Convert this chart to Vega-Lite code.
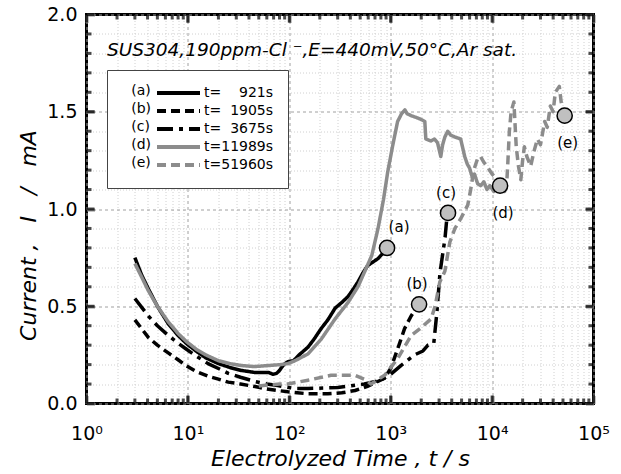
{
  "$schema": "https://vega.github.io/schema/vega-lite/v6.json",
  "width": 507,
  "height": 389,
  "autosize": {"type": "none"},
  "padding": {"left": 86.5, "top": 14.5, "right": 27.5, "bottom": 70.5},
  "title": {"text": "SUS304,190ppm-Cl \u207b,E=440mV,50°C,Ar sat.", "anchor": "start", "orient": "top", "frame": "group", "offset": 0, "dx": 20.5, "dy": 69, "baseline": "alphabetic", "font": "DejaVu Sans", "fontStyle": "italic", "fontWeight": "normal", "fontSize": 18.5, "color": "black"},
  "datasets": {
    "curves": [
      {"curve": "a", "t": 3, "I": 0.75}, {"curve": "a", "t": 3.5, "I": 0.66}, {"curve": "a", "t": 4.07, "I": 0.59}, {"curve": "a", "t": 5, "I": 0.5}, {"curve": "a", "t": 6.4, "I": 0.41}, {"curve": "a", "t": 8, "I": 0.35}, {"curve": "a", "t": 9.6, "I": 0.31}, {"curve": "a", "t": 12, "I": 0.27}, {"curve": "a", "t": 15, "I": 0.235}, {"curve": "a", "t": 20, "I": 0.205}, {"curve": "a", "t": 26, "I": 0.185}, {"curve": "a", "t": 33.6, "I": 0.17}, {"curve": "a", "t": 45, "I": 0.16}, {"curve": "a", "t": 62, "I": 0.16}, {"curve": "a", "t": 69, "I": 0.15}, {"curve": "a", "t": 75, "I": 0.155}, {"curve": "a", "t": 80, "I": 0.17}, {"curve": "a", "t": 88, "I": 0.2}, {"curve": "a", "t": 97, "I": 0.215}, {"curve": "a", "t": 110, "I": 0.22}, {"curve": "a", "t": 125, "I": 0.25}, {"curve": "a", "t": 153, "I": 0.29}, {"curve": "a", "t": 175, "I": 0.33}, {"curve": "a", "t": 206, "I": 0.385}, {"curve": "a", "t": 240, "I": 0.43}, {"curve": "a", "t": 283, "I": 0.49}, {"curve": "a", "t": 330, "I": 0.52}, {"curve": "a", "t": 380, "I": 0.55}, {"curve": "a", "t": 430, "I": 0.59}, {"curve": "a", "t": 475, "I": 0.625}, {"curve": "a", "t": 530, "I": 0.67}, {"curve": "a", "t": 595, "I": 0.71}, {"curve": "a", "t": 680, "I": 0.73}, {"curve": "a", "t": 750, "I": 0.745}, {"curve": "a", "t": 830, "I": 0.77}, {"curve": "a", "t": 921, "I": 0.8},
      {"curve": "b", "t": 3, "I": 0.43}, {"curve": "b", "t": 4.07, "I": 0.34}, {"curve": "b", "t": 5, "I": 0.3}, {"curve": "b", "t": 6.4, "I": 0.26}, {"curve": "b", "t": 8, "I": 0.225}, {"curve": "b", "t": 9.6, "I": 0.195}, {"curve": "b", "t": 12, "I": 0.165}, {"curve": "b", "t": 15.8, "I": 0.14}, {"curve": "b", "t": 20, "I": 0.125}, {"curve": "b", "t": 25, "I": 0.11}, {"curve": "b", "t": 33, "I": 0.1}, {"curve": "b", "t": 46, "I": 0.087}, {"curve": "b", "t": 60, "I": 0.075}, {"curve": "b", "t": 77, "I": 0.067}, {"curve": "b", "t": 97, "I": 0.06}, {"curve": "b", "t": 120, "I": 0.055}, {"curve": "b", "t": 153, "I": 0.05}, {"curve": "b", "t": 240, "I": 0.05}, {"curve": "b", "t": 330, "I": 0.055}, {"curve": "b", "t": 445, "I": 0.067}, {"curve": "b", "t": 600, "I": 0.09}, {"curve": "b", "t": 870, "I": 0.13}, {"curve": "b", "t": 1000, "I": 0.18}, {"curve": "b", "t": 1170, "I": 0.28}, {"curve": "b", "t": 1370, "I": 0.385}, {"curve": "b", "t": 1590, "I": 0.45}, {"curve": "b", "t": 1905, "I": 0.51},
      {"curve": "c", "t": 3, "I": 0.54}, {"curve": "c", "t": 4.07, "I": 0.45}, {"curve": "c", "t": 5, "I": 0.4}, {"curve": "c", "t": 6.4, "I": 0.35}, {"curve": "c", "t": 8, "I": 0.31}, {"curve": "c", "t": 9.6, "I": 0.28}, {"curve": "c", "t": 12, "I": 0.245}, {"curve": "c", "t": 15.8, "I": 0.205}, {"curve": "c", "t": 20, "I": 0.18}, {"curve": "c", "t": 25, "I": 0.155}, {"curve": "c", "t": 33, "I": 0.135}, {"curve": "c", "t": 46, "I": 0.113}, {"curve": "c", "t": 60, "I": 0.1}, {"curve": "c", "t": 77, "I": 0.092}, {"curve": "c", "t": 114, "I": 0.077}, {"curve": "c", "t": 153, "I": 0.077}, {"curve": "c", "t": 300, "I": 0.082}, {"curve": "c", "t": 550, "I": 0.1}, {"curve": "c", "t": 800, "I": 0.12}, {"curve": "c", "t": 1000, "I": 0.15}, {"curve": "c", "t": 1260, "I": 0.195}, {"curve": "c", "t": 1720, "I": 0.25}, {"curve": "c", "t": 2080, "I": 0.27}, {"curve": "c", "t": 2330, "I": 0.3}, {"curve": "c", "t": 2660, "I": 0.31}, {"curve": "c", "t": 2850, "I": 0.465}, {"curve": "c", "t": 3060, "I": 0.67}, {"curve": "c", "t": 3440, "I": 0.855}, {"curve": "c", "t": 3560, "I": 0.94}, {"curve": "c", "t": 3675, "I": 0.98},
      {"curve": "d", "t": 3, "I": 0.72}, {"curve": "d", "t": 3.5, "I": 0.65}, {"curve": "d", "t": 4.07, "I": 0.58}, {"curve": "d", "t": 5, "I": 0.5}, {"curve": "d", "t": 6.4, "I": 0.42}, {"curve": "d", "t": 8, "I": 0.36}, {"curve": "d", "t": 9.6, "I": 0.32}, {"curve": "d", "t": 12, "I": 0.28}, {"curve": "d", "t": 15, "I": 0.25}, {"curve": "d", "t": 20, "I": 0.22}, {"curve": "d", "t": 26, "I": 0.205}, {"curve": "d", "t": 34, "I": 0.195}, {"curve": "d", "t": 45, "I": 0.19}, {"curve": "d", "t": 62, "I": 0.195}, {"curve": "d", "t": 82, "I": 0.2}, {"curve": "d", "t": 97, "I": 0.205}, {"curve": "d", "t": 114, "I": 0.22}, {"curve": "d", "t": 153, "I": 0.255}, {"curve": "d", "t": 206, "I": 0.33}, {"curve": "d", "t": 283, "I": 0.435}, {"curve": "d", "t": 380, "I": 0.52}, {"curve": "d", "t": 475, "I": 0.6}, {"curve": "d", "t": 556, "I": 0.68}, {"curve": "d", "t": 650, "I": 0.76}, {"curve": "d", "t": 750, "I": 0.9}, {"curve": "d", "t": 850, "I": 1.05}, {"curve": "d", "t": 934, "I": 1.19}, {"curve": "d", "t": 1050, "I": 1.33}, {"curve": "d", "t": 1170, "I": 1.45}, {"curve": "d", "t": 1280, "I": 1.49}, {"curve": "d", "t": 1380, "I": 1.51}, {"curve": "d", "t": 1450, "I": 1.49}, {"curve": "d", "t": 1590, "I": 1.48}, {"curve": "d", "t": 1800, "I": 1.47}, {"curve": "d", "t": 2000, "I": 1.46}, {"curve": "d", "t": 2170, "I": 1.45}, {"curve": "d", "t": 2220, "I": 1.36}, {"curve": "d", "t": 2490, "I": 1.35}, {"curve": "d", "t": 2700, "I": 1.36}, {"curve": "d", "t": 2900, "I": 1.34}, {"curve": "d", "t": 3020, "I": 1.3}, {"curve": "d", "t": 3120, "I": 1.27}, {"curve": "d", "t": 3250, "I": 1.33}, {"curve": "d", "t": 3420, "I": 1.37}, {"curve": "d", "t": 3650, "I": 1.4}, {"curve": "d", "t": 3900, "I": 1.38}, {"curve": "d", "t": 4300, "I": 1.37}, {"curve": "d", "t": 4900, "I": 1.36}, {"curve": "d", "t": 5100, "I": 1.32}, {"curve": "d", "t": 5370, "I": 1.27}, {"curve": "d", "t": 5700, "I": 1.23}, {"curve": "d", "t": 6000, "I": 1.21}, {"curve": "d", "t": 6400, "I": 1.16}, {"curve": "d", "t": 6700, "I": 1.18}, {"curve": "d", "t": 7200, "I": 1.13}, {"curve": "d", "t": 7700, "I": 1.12}, {"curve": "d", "t": 8300, "I": 1.14}, {"curve": "d", "t": 8900, "I": 1.1}, {"curve": "d", "t": 9500, "I": 1.12}, {"curve": "d", "t": 10400, "I": 1.09}, {"curve": "d", "t": 11200, "I": 1.11}, {"curve": "d", "t": 11989, "I": 1.12},
      {"curve": "e", "t": 50, "I": 0.09}, {"curve": "e", "t": 62, "I": 0.095}, {"curve": "e", "t": 80, "I": 0.1}, {"curve": "e", "t": 97, "I": 0.1}, {"curve": "e", "t": 153, "I": 0.12}, {"curve": "e", "t": 258, "I": 0.145}, {"curve": "e", "t": 445, "I": 0.145}, {"curve": "e", "t": 550, "I": 0.125}, {"curve": "e", "t": 640, "I": 0.1}, {"curve": "e", "t": 870, "I": 0.145}, {"curve": "e", "t": 1170, "I": 0.23}, {"curve": "e", "t": 1590, "I": 0.35}, {"curve": "e", "t": 2000, "I": 0.39}, {"curve": "e", "t": 2500, "I": 0.435}, {"curve": "e", "t": 2740, "I": 0.5}, {"curve": "e", "t": 3050, "I": 0.625}, {"curve": "e", "t": 3420, "I": 0.68}, {"curve": "e", "t": 3830, "I": 0.83}, {"curve": "e", "t": 4300, "I": 0.9}, {"curve": "e", "t": 4900, "I": 0.95}, {"curve": "e", "t": 5750, "I": 1.02}, {"curve": "e", "t": 6150, "I": 1.1}, {"curve": "e", "t": 6600, "I": 1.2}, {"curve": "e", "t": 7200, "I": 1.26}, {"curve": "e", "t": 7700, "I": 1.27}, {"curve": "e", "t": 8300, "I": 1.24}, {"curve": "e", "t": 8900, "I": 1.22}, {"curve": "e", "t": 10000, "I": 1.18}, {"curve": "e", "t": 11300, "I": 1.15}, {"curve": "e", "t": 12500, "I": 1.1}, {"curve": "e", "t": 13300, "I": 1.09}, {"curve": "e", "t": 14000, "I": 1.15}, {"curve": "e", "t": 14300, "I": 1.24}, {"curve": "e", "t": 14800, "I": 1.4}, {"curve": "e", "t": 15400, "I": 1.5}, {"curve": "e", "t": 16400, "I": 1.55}, {"curve": "e", "t": 17300, "I": 1.32}, {"curve": "e", "t": 18200, "I": 1.22}, {"curve": "e", "t": 19200, "I": 1.15}, {"curve": "e", "t": 20000, "I": 1.25}, {"curve": "e", "t": 20800, "I": 1.32}, {"curve": "e", "t": 22000, "I": 1.27}, {"curve": "e", "t": 24000, "I": 1.22}, {"curve": "e", "t": 26000, "I": 1.3}, {"curve": "e", "t": 28000, "I": 1.36}, {"curve": "e", "t": 30000, "I": 1.33}, {"curve": "e", "t": 33000, "I": 1.45}, {"curve": "e", "t": 35000, "I": 1.42}, {"curve": "e", "t": 37500, "I": 1.53}, {"curve": "e", "t": 40000, "I": 1.5}, {"curve": "e", "t": 42000, "I": 1.6}, {"curve": "e", "t": 46000, "I": 1.63}, {"curve": "e", "t": 48000, "I": 1.55}, {"curve": "e", "t": 51960, "I": 1.48}
    ],
    "markers": [
      {"label": "(a)", "t": 921, "I": 0.8},
      {"label": "(b)", "t": 1905, "I": 0.51},
      {"label": "(c)", "t": 3675, "I": 0.98},
      {"label": "(d)", "t": 11989, "I": 1.12},
      {"label": "(e)", "t": 51960, "I": 1.48}
    ],
    "edgeticks": [
      {"side": "bottom", "kind": "major", "t": 1, "I": 0}, {"side": "bottom", "kind": "major", "t": 10, "I": 0}, {"side": "bottom", "kind": "major", "t": 100, "I": 0}, {"side": "bottom", "kind": "major", "t": 1000, "I": 0}, {"side": "bottom", "kind": "major", "t": 10000, "I": 0}, {"side": "bottom", "kind": "major", "t": 100000, "I": 0},
      {"side": "top", "kind": "major", "t": 1, "I": 2}, {"side": "top", "kind": "major", "t": 10, "I": 2}, {"side": "top", "kind": "major", "t": 100, "I": 2}, {"side": "top", "kind": "major", "t": 1000, "I": 2}, {"side": "top", "kind": "major", "t": 10000, "I": 2}, {"side": "top", "kind": "major", "t": 100000, "I": 2},
      {"side": "bottom", "kind": "minor", "t": 2, "I": 0}, {"side": "bottom", "kind": "minor", "t": 3, "I": 0}, {"side": "bottom", "kind": "minor", "t": 4, "I": 0}, {"side": "bottom", "kind": "minor", "t": 5, "I": 0}, {"side": "bottom", "kind": "minor", "t": 6, "I": 0}, {"side": "bottom", "kind": "minor", "t": 7, "I": 0}, {"side": "bottom", "kind": "minor", "t": 8, "I": 0}, {"side": "bottom", "kind": "minor", "t": 9, "I": 0},
      {"side": "bottom", "kind": "minor", "t": 20, "I": 0}, {"side": "bottom", "kind": "minor", "t": 30, "I": 0}, {"side": "bottom", "kind": "minor", "t": 40, "I": 0}, {"side": "bottom", "kind": "minor", "t": 50, "I": 0}, {"side": "bottom", "kind": "minor", "t": 60, "I": 0}, {"side": "bottom", "kind": "minor", "t": 70, "I": 0}, {"side": "bottom", "kind": "minor", "t": 80, "I": 0}, {"side": "bottom", "kind": "minor", "t": 90, "I": 0},
      {"side": "bottom", "kind": "minor", "t": 200, "I": 0}, {"side": "bottom", "kind": "minor", "t": 300, "I": 0}, {"side": "bottom", "kind": "minor", "t": 400, "I": 0}, {"side": "bottom", "kind": "minor", "t": 500, "I": 0}, {"side": "bottom", "kind": "minor", "t": 600, "I": 0}, {"side": "bottom", "kind": "minor", "t": 700, "I": 0}, {"side": "bottom", "kind": "minor", "t": 800, "I": 0}, {"side": "bottom", "kind": "minor", "t": 900, "I": 0},
      {"side": "bottom", "kind": "minor", "t": 2000, "I": 0}, {"side": "bottom", "kind": "minor", "t": 3000, "I": 0}, {"side": "bottom", "kind": "minor", "t": 4000, "I": 0}, {"side": "bottom", "kind": "minor", "t": 5000, "I": 0}, {"side": "bottom", "kind": "minor", "t": 6000, "I": 0}, {"side": "bottom", "kind": "minor", "t": 7000, "I": 0}, {"side": "bottom", "kind": "minor", "t": 8000, "I": 0}, {"side": "bottom", "kind": "minor", "t": 9000, "I": 0},
      {"side": "bottom", "kind": "minor", "t": 20000, "I": 0}, {"side": "bottom", "kind": "minor", "t": 30000, "I": 0}, {"side": "bottom", "kind": "minor", "t": 40000, "I": 0}, {"side": "bottom", "kind": "minor", "t": 50000, "I": 0}, {"side": "bottom", "kind": "minor", "t": 60000, "I": 0}, {"side": "bottom", "kind": "minor", "t": 70000, "I": 0}, {"side": "bottom", "kind": "minor", "t": 80000, "I": 0}, {"side": "bottom", "kind": "minor", "t": 90000, "I": 0},
      {"side": "top", "kind": "minor", "t": 2, "I": 2}, {"side": "top", "kind": "minor", "t": 3, "I": 2}, {"side": "top", "kind": "minor", "t": 4, "I": 2}, {"side": "top", "kind": "minor", "t": 5, "I": 2}, {"side": "top", "kind": "minor", "t": 6, "I": 2}, {"side": "top", "kind": "minor", "t": 7, "I": 2}, {"side": "top", "kind": "minor", "t": 8, "I": 2}, {"side": "top", "kind": "minor", "t": 9, "I": 2},
      {"side": "top", "kind": "minor", "t": 20, "I": 2}, {"side": "top", "kind": "minor", "t": 30, "I": 2}, {"side": "top", "kind": "minor", "t": 40, "I": 2}, {"side": "top", "kind": "minor", "t": 50, "I": 2}, {"side": "top", "kind": "minor", "t": 60, "I": 2}, {"side": "top", "kind": "minor", "t": 70, "I": 2}, {"side": "top", "kind": "minor", "t": 80, "I": 2}, {"side": "top", "kind": "minor", "t": 90, "I": 2},
      {"side": "top", "kind": "minor", "t": 200, "I": 2}, {"side": "top", "kind": "minor", "t": 300, "I": 2}, {"side": "top", "kind": "minor", "t": 400, "I": 2}, {"side": "top", "kind": "minor", "t": 500, "I": 2}, {"side": "top", "kind": "minor", "t": 600, "I": 2}, {"side": "top", "kind": "minor", "t": 700, "I": 2}, {"side": "top", "kind": "minor", "t": 800, "I": 2}, {"side": "top", "kind": "minor", "t": 900, "I": 2},
      {"side": "top", "kind": "minor", "t": 2000, "I": 2}, {"side": "top", "kind": "minor", "t": 3000, "I": 2}, {"side": "top", "kind": "minor", "t": 4000, "I": 2}, {"side": "top", "kind": "minor", "t": 5000, "I": 2}, {"side": "top", "kind": "minor", "t": 6000, "I": 2}, {"side": "top", "kind": "minor", "t": 7000, "I": 2}, {"side": "top", "kind": "minor", "t": 8000, "I": 2}, {"side": "top", "kind": "minor", "t": 9000, "I": 2},
      {"side": "top", "kind": "minor", "t": 20000, "I": 2}, {"side": "top", "kind": "minor", "t": 30000, "I": 2}, {"side": "top", "kind": "minor", "t": 40000, "I": 2}, {"side": "top", "kind": "minor", "t": 50000, "I": 2}, {"side": "top", "kind": "minor", "t": 60000, "I": 2}, {"side": "top", "kind": "minor", "t": 70000, "I": 2}, {"side": "top", "kind": "minor", "t": 80000, "I": 2}, {"side": "top", "kind": "minor", "t": 90000, "I": 2},
      {"side": "left", "kind": "major", "t": 1, "I": 0}, {"side": "left", "kind": "major", "t": 1, "I": 0.5}, {"side": "left", "kind": "major", "t": 1, "I": 1}, {"side": "left", "kind": "major", "t": 1, "I": 1.5}, {"side": "left", "kind": "major", "t": 1, "I": 2},
      {"side": "right", "kind": "major", "t": 100000, "I": 0}, {"side": "right", "kind": "major", "t": 100000, "I": 0.5}, {"side": "right", "kind": "major", "t": 100000, "I": 1}, {"side": "right", "kind": "major", "t": 100000, "I": 1.5}, {"side": "right", "kind": "major", "t": 100000, "I": 2},
      {"side": "left", "kind": "minor", "t": 1, "I": 0.1}, {"side": "left", "kind": "minor", "t": 1, "I": 0.2}, {"side": "left", "kind": "minor", "t": 1, "I": 0.3}, {"side": "left", "kind": "minor", "t": 1, "I": 0.4}, {"side": "left", "kind": "minor", "t": 1, "I": 0.6}, {"side": "left", "kind": "minor", "t": 1, "I": 0.7}, {"side": "left", "kind": "minor", "t": 1, "I": 0.8}, {"side": "left", "kind": "minor", "t": 1, "I": 0.9},
      {"side": "left", "kind": "minor", "t": 1, "I": 1.1}, {"side": "left", "kind": "minor", "t": 1, "I": 1.2}, {"side": "left", "kind": "minor", "t": 1, "I": 1.3}, {"side": "left", "kind": "minor", "t": 1, "I": 1.4}, {"side": "left", "kind": "minor", "t": 1, "I": 1.6}, {"side": "left", "kind": "minor", "t": 1, "I": 1.7}, {"side": "left", "kind": "minor", "t": 1, "I": 1.8}, {"side": "left", "kind": "minor", "t": 1, "I": 1.9},
      {"side": "right", "kind": "minor", "t": 100000, "I": 0.1}, {"side": "right", "kind": "minor", "t": 100000, "I": 0.2}, {"side": "right", "kind": "minor", "t": 100000, "I": 0.3}, {"side": "right", "kind": "minor", "t": 100000, "I": 0.4}, {"side": "right", "kind": "minor", "t": 100000, "I": 0.6}, {"side": "right", "kind": "minor", "t": 100000, "I": 0.7}, {"side": "right", "kind": "minor", "t": 100000, "I": 0.8}, {"side": "right", "kind": "minor", "t": 100000, "I": 0.9},
      {"side": "right", "kind": "minor", "t": 100000, "I": 1.1}, {"side": "right", "kind": "minor", "t": 100000, "I": 1.2}, {"side": "right", "kind": "minor", "t": 100000, "I": 1.3}, {"side": "right", "kind": "minor", "t": 100000, "I": 1.4}, {"side": "right", "kind": "minor", "t": 100000, "I": 1.6}, {"side": "right", "kind": "minor", "t": 100000, "I": 1.7}, {"side": "right", "kind": "minor", "t": 100000, "I": 1.8}, {"side": "right", "kind": "minor", "t": 100000, "I": 1.9}
    ]
  },
  "resolve": {"axis": {"x": "independent", "y": "independent"}},
  "layer": [
    {
      "data": {"name": "curves"},
      "mark": {"type": "line", "strokeWidth": 3.5, "strokeCap": "butt", "strokeJoin": "round"},
      "encoding": {
        "x": {"field": "t", "type": "quantitative", "scale": {"type": "log", "domain": [1, 100000]},
          "axis": {"orient": "bottom", "values": [1, 10, 100, 1000, 10000, 100000], "labelExpr": "'10' + ['\u2070','\u00b9','\u00b2','\u00b3','\u2074','\u2075'][round(log(datum.value)/LN10)]", "labelFontSize": 19, "labelBaseline": "alphabetic", "labelPadding": 36, "labelFlush": false, "ticks": false, "grid": true, "gridColor": "#a0a0a0", "gridDash": [3, 3], "gridWidth": 1, "title": "Electrolyzed Time , t / s", "titleFont": "DejaVu Sans", "titleFontStyle": "italic", "titleFontWeight": "normal", "titleFontSize": 22, "titleColor": "black", "titleBaseline": "alphabetic", "titleY": 62}},
        "y": {"field": "I", "type": "quantitative", "scale": {"domain": [0, 2], "nice": false, "zero": false},
          "axis": {"orient": "left", "values": [0, 0.5, 1, 1.5, 2], "format": ".1f", "labelFontSize": 19, "labelPadding": 9.5, "labelFlush": false, "ticks": false, "grid": true, "gridColor": "#a0a0a0", "gridDash": [3, 3], "gridWidth": 1, "title": "Current ,\u00a0\u00a0\u00a0I\u00a0\u00a0\u00a0/\u00a0\u00a0\u00a0mA", "titleFont": "DejaVu Sans", "titleFontStyle": "italic", "titleFontWeight": "normal", "titleFontSize": 22, "titleColor": "black", "titleBaseline": "alphabetic", "titleAlign": "center", "titleX": -51.5, "titleY": 220.5, "titleAngle": 270}},
        "color": {"field": "curve", "type": "nominal", "scale": {"domain": ["a", "b", "c", "d", "e"], "range": ["#000000", "#000000", "#000000", "#8c8c8c", "#8c8c8c"]},
          "legend": {"title": ["\u2800(a)", "\u2800(b)", "\u2800(c)", "\u2800(d)", "\u2800(e)"], "titleOrient": "left", "titleAnchor": "start", "titleBaseline": "top", "titleLineHeight": 18, "titleFont": "DejaVu Sans", "titleFontSize": 14, "titleFontWeight": "normal", "titleColor": "black", "titlePadding": 3, "orient": "none", "legendX": 20.5, "legendY": 55.5, "padding": 14, "strokeColor": "#444444", "fillColor": "white", "symbolType": "stroke", "symbolSize": 1849, "symbolStrokeWidth": 4, "labelOffset": 2, "labelFont": "DejaVu Sans", "labelFontSize": 14, "labelColor": "black", "labelLimit": 400, "clipHeight": 18, "rowPadding": 0,
            "labelExpr": "['t=\u2007\u2007921s', 't=\u20071905s', 't=\u20073675s', 't=11989s', 't=51960s'][indexof(['a','b','c','d','e'], datum.label)]"}},
        "strokeDash": {"field": "curve", "type": "nominal", "scale": {"domain": ["a", "b", "c", "d", "e"], "range": [[1, 0], [9, 5], [16, 6, 4, 6], [1, 0], [9, 5]]},
          "legend": {"title": ["\u2800(a)", "\u2800(b)", "\u2800(c)", "\u2800(d)", "\u2800(e)"], "titleOrient": "left", "titleAnchor": "start", "titleBaseline": "top", "titleLineHeight": 18, "titleFont": "DejaVu Sans", "titleFontSize": 14, "titleFontWeight": "normal", "titleColor": "black", "titlePadding": 3, "orient": "none", "legendX": 20.5, "legendY": 55.5, "padding": 14, "strokeColor": "#444444", "fillColor": "white", "symbolType": "stroke", "symbolSize": 1849, "symbolStrokeWidth": 4, "labelOffset": 2, "labelFont": "DejaVu Sans", "labelFontSize": 14, "labelColor": "black", "labelLimit": 400, "clipHeight": 18, "rowPadding": 0,
            "labelExpr": "['t=\u2007\u2007921s', 't=\u20071905s', 't=\u20073675s', 't=11989s', 't=51960s'][indexof(['a','b','c','d','e'], datum.label)]"}}
      }
    },
    {
      "data": {"name": "edgeticks"},
      "transform": [{"filter": {"and": [{"field": "side", "equal": "bottom"}, {"field": "kind", "equal": "major"}]}}],
      "mark": {"type": "tick", "orient": "vertical", "size": 8, "thickness": 3, "color": "black", "yOffset": -4},
      "encoding": {"x": {"field": "t", "type": "quantitative", "axis": null}, "y": {"field": "I", "type": "quantitative", "axis": null}}
    },
    {
      "data": {"name": "edgeticks"},
      "transform": [{"filter": {"and": [{"field": "side", "equal": "top"}, {"field": "kind", "equal": "major"}]}}],
      "mark": {"type": "tick", "orient": "vertical", "size": 8, "thickness": 3, "color": "black", "yOffset": 4},
      "encoding": {"x": {"field": "t", "type": "quantitative", "axis": null}, "y": {"field": "I", "type": "quantitative", "axis": null}}
    },
    {
      "data": {"name": "edgeticks"},
      "transform": [{"filter": {"and": [{"field": "side", "equal": "bottom"}, {"field": "kind", "equal": "minor"}]}}],
      "mark": {"type": "tick", "orient": "vertical", "size": 5, "thickness": 3, "color": "black", "yOffset": -2.5},
      "encoding": {"x": {"field": "t", "type": "quantitative", "axis": null}, "y": {"field": "I", "type": "quantitative", "axis": null}}
    },
    {
      "data": {"name": "edgeticks"},
      "transform": [{"filter": {"and": [{"field": "side", "equal": "top"}, {"field": "kind", "equal": "minor"}]}}],
      "mark": {"type": "tick", "orient": "vertical", "size": 5, "thickness": 3, "color": "black", "yOffset": 2.5},
      "encoding": {"x": {"field": "t", "type": "quantitative", "axis": null}, "y": {"field": "I", "type": "quantitative", "axis": null}}
    },
    {
      "data": {"name": "edgeticks"},
      "transform": [{"filter": {"and": [{"field": "side", "equal": "left"}, {"field": "kind", "equal": "major"}]}}],
      "mark": {"type": "tick", "orient": "horizontal", "size": 8, "thickness": 3, "color": "black", "xOffset": 4},
      "encoding": {"x": {"field": "t", "type": "quantitative", "axis": null}, "y": {"field": "I", "type": "quantitative", "axis": null}}
    },
    {
      "data": {"name": "edgeticks"},
      "transform": [{"filter": {"and": [{"field": "side", "equal": "right"}, {"field": "kind", "equal": "major"}]}}],
      "mark": {"type": "tick", "orient": "horizontal", "size": 8, "thickness": 3, "color": "black", "xOffset": -4},
      "encoding": {"x": {"field": "t", "type": "quantitative", "axis": null}, "y": {"field": "I", "type": "quantitative", "axis": null}}
    },
    {
      "data": {"name": "edgeticks"},
      "transform": [{"filter": {"and": [{"field": "side", "equal": "left"}, {"field": "kind", "equal": "minor"}]}}],
      "mark": {"type": "tick", "orient": "horizontal", "size": 5, "thickness": 3, "color": "black", "xOffset": 2.5},
      "encoding": {"x": {"field": "t", "type": "quantitative", "axis": null}, "y": {"field": "I", "type": "quantitative", "axis": null}}
    },
    {
      "data": {"name": "edgeticks"},
      "transform": [{"filter": {"and": [{"field": "side", "equal": "right"}, {"field": "kind", "equal": "minor"}]}}],
      "mark": {"type": "tick", "orient": "horizontal", "size": 5, "thickness": 3, "color": "black", "xOffset": -2.5},
      "encoding": {"x": {"field": "t", "type": "quantitative", "axis": null}, "y": {"field": "I", "type": "quantitative", "axis": null}}
    },
    {
      "data": {"name": "markers"},
      "mark": {"type": "circle", "fill": "#c0c0c0", "stroke": "black", "strokeWidth": 1.5, "size": 230, "opacity": 1},
      "encoding": {
        "x": {"field": "t", "type": "quantitative", "axis": {"orient": "bottom", "values": [2, 3, 4, 5, 6, 7, 8, 9, 20, 30, 40, 50, 60, 70, 80, 90, 200, 300, 400, 500, 600, 700, 800, 900, 2000, 3000, 4000, 5000, 6000, 7000, 8000, 9000, 20000, 30000, 40000, 50000, 60000, 70000, 80000, 90000], "labels": false, "ticks": false, "grid": true, "gridColor": "#d0d0d0", "gridDash": [1, 2], "gridWidth": 1, "title": null}},
        "y": {"field": "I", "type": "quantitative", "axis": {"orient": "left", "values": [0.1, 0.2, 0.3, 0.4, 0.6, 0.7, 0.8, 0.9, 1.1, 1.2, 1.3, 1.4, 1.6, 1.7, 1.8, 1.9], "labels": false, "ticks": false, "grid": true, "gridColor": "#d0d0d0", "gridDash": [1, 2], "gridWidth": 1, "title": null}}
      }
    },
    {
      "data": {"name": "markers"},
      "transform": [{"filter": {"field": "label", "oneOf": ["(a)"]}}],
      "mark": {"type": "text", "font": "DejaVu Sans", "fontSize": 15, "dx": 12, "dy": -21, "align": "center", "baseline": "middle", "color": "black"},
      "encoding": {
        "x": {"field": "t", "type": "quantitative", "axis": {"orient": "bottom", "offset": -8, "values": [1, 10, 100, 1000, 10000, 100000], "labels": false, "ticks": true, "tickSize": 8, "tickWidth": 3, "grid": false, "title": null}},
        "y": {"field": "I", "type": "quantitative", "axis": {"orient": "left", "offset": -8, "values": [0, 0.5, 1, 1.5, 2], "labels": false, "ticks": true, "tickSize": 8, "tickWidth": 3, "grid": false, "title": null}},
        "text": {"field": "label"}
      }
    },
    {
      "data": {"name": "markers"},
      "transform": [{"filter": {"field": "label", "oneOf": ["(b)", "(c)"]}}],
      "mark": {"type": "text", "font": "DejaVu Sans", "fontSize": 15, "dx": -2, "dy": -20, "align": "center", "baseline": "middle", "color": "black"},
      "encoding": {
        "x": {"field": "t", "type": "quantitative", "axis": {"orient": "top", "offset": -8, "values": [1, 10, 100, 1000, 10000, 100000], "labels": false, "ticks": true, "tickSize": 8, "tickWidth": 3, "grid": false, "title": null}},
        "y": {"field": "I", "type": "quantitative", "axis": {"orient": "right", "offset": -8, "values": [0, 0.5, 1, 1.5, 2], "labels": false, "ticks": true, "tickSize": 8, "tickWidth": 3, "grid": false, "title": null}},
        "text": {"field": "label"}
      }
    },
    {
      "data": {"name": "markers"},
      "transform": [{"filter": {"field": "label", "oneOf": ["(d)", "(e)"]}}],
      "mark": {"type": "text", "font": "DejaVu Sans", "fontSize": 15, "dx": 3, "dy": 27, "align": "center", "baseline": "middle", "color": "black"},
      "encoding": {
        "x": {"field": "t", "type": "quantitative", "axis": null},
        "y": {"field": "I", "type": "quantitative", "axis": null},
        "text": {"field": "label"}
      }
    }
  ],
  "config": {
    "view": {"stroke": "black", "strokeWidth": 3},
    "axis": {"domain": false, "labelFont": "DejaVu Sans", "labelColor": "black"}
  }
}
